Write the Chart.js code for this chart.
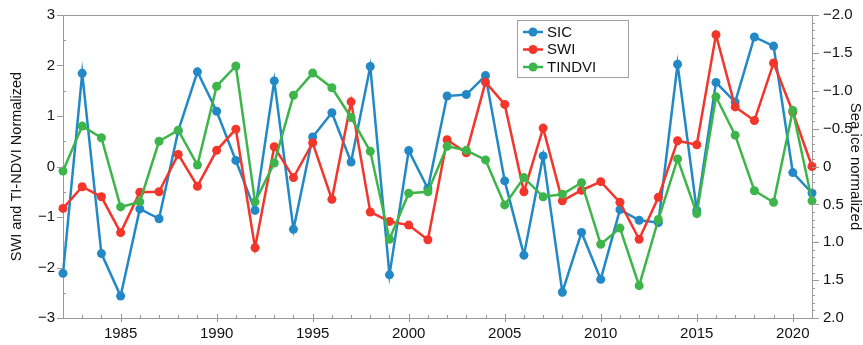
<!DOCTYPE html>
<html>
<head>
<meta charset="utf-8">
<script src="https://cdn.jsdelivr.net/npm/chart.js@4.4.1/dist/chart.umd.min.js"></script>
<style>
html,body{margin:0;padding:0;background:#fff;}
#wrap{width:863px;height:345px;position:relative;}
</style>
</head>
<body>
<div id="wrap"><canvas id="c" width="863" height="345"></canvas></div>
<script>
const years = [1982,1983,1984,1985,1986,1987,1988,1989,1990,1991,1992,1993,1994,1995,1996,1997,1998,1999,2000,2001,2002,2003,2004,2005,2006,2007,2008,2009,2010,2011,2012,2013,2014,2015,2016,2017,2018,2019,2020,2021];
// Sea ice (right axis, reversed)
const sic = [1.41,-1.23,1.15,1.71,0.56,0.69,-0.47,-1.25,-0.73,-0.08,0.58,-1.13,0.83,-0.39,-0.71,-0.06,-1.32,1.43,-0.21,0.29,-0.93,-0.95,-1.20,0.19,1.17,-0.14,1.66,0.87,1.49,0.57,0.71,0.74,-1.35,0.58,-1.11,-0.85,-1.71,-1.59,0.08,0.35];
const swi = [-0.83,-0.40,-0.60,-1.31,-0.51,-0.50,0.24,-0.39,0.32,0.74,-1.61,0.39,-0.22,0.47,-0.65,1.28,-0.90,-1.09,-1.16,-1.45,0.53,0.27,1.67,1.23,-0.50,0.76,-0.68,-0.47,-0.30,-0.71,-1.44,-0.61,0.51,0.43,2.61,1.18,0.91,2.05,1.08,0.00];
const tindvi = [-0.09,0.80,0.57,-0.80,-0.70,0.50,0.72,0.03,1.59,1.99,-0.70,0.07,1.41,1.85,1.56,0.97,0.30,-1.44,-0.53,-0.50,0.40,0.32,0.13,-0.76,-0.22,-0.60,-0.55,-0.32,-1.54,-1.22,-2.36,-1.05,0.15,-0.93,1.38,0.62,-0.48,-0.71,1.11,-0.68];
const seriesNames = ['SIC','SWI','TINDVI'];
const seriesColors = ['#2389c6','#f2362b','#3db54a'];

const pts = arr => years.map((yr,i)=>({x:yr,y:arr[i]}));
const minus = s => s.replace('-', '\u2212');
const FONT = "'Liberation Sans', Arial, Helvetica, sans-serif";
const AXIS = '#9a9a9a';

const framePlugin = {
  id:'frame',
  afterDraw(chart){
    const ctx = chart.ctx, a = chart.chartArea;
    const sx = chart.scales.x, sy = chart.scales.y, sy2 = chart.scales.y2;
    ctx.save();
    ctx.strokeStyle = AXIS; ctx.lineWidth = 1;
    ctx.beginPath(); ctx.moveTo(a.left, a.top+0.5); ctx.lineTo(a.right, a.top+0.5); ctx.stroke();
    // tick marks
    ctx.beginPath();
    for (let v = sx.min; v <= sx.max; v++) {
      const px = Math.round(sx.getPixelForValue(v)) + 0.5;
      if (v % 5 === 0) { ctx.moveTo(px, a.bottom - 4); ctx.lineTo(px, a.bottom + 4); }
      else { ctx.moveTo(px, a.bottom - 3); ctx.lineTo(px, a.bottom); }
    }
    for (let k = sy.min*2; k <= sy.max*2; k++) {
      const py = Math.round(sy.getPixelForValue(k/2)) + 0.5;
      if (k % 2 === 0) { ctx.moveTo(a.left - 6, py); ctx.lineTo(a.left, py); }
      else { ctx.moveTo(a.left, py); ctx.lineTo(a.left + 3, py); }
    }
    for (let k = sy2.min*10; k <= sy2.max*10; k++) {
      const py = Math.round(sy2.getPixelForValue(k/10)) + 0.5;
      if (k % 5 === 0) { ctx.moveTo(a.right, py); ctx.lineTo(a.right + 7, py); }
      else { ctx.moveTo(a.right, py); ctx.lineTo(a.right + 3, py); }
    }
    ctx.stroke();
    // legend
    const bx = 517.5, by = 20.5, bw = 111, bh = 57;
    ctx.fillStyle = '#fff';
    ctx.fillRect(bx,by,bw,bh);
    ctx.strokeStyle = '#a0a0a0';
    ctx.strokeRect(bx,by,bw,bh);
    ctx.font = "15px " + FONT;
    ctx.textBaseline = 'middle';
    seriesNames.forEach((n,i)=>{
      const yy = 32 + i*17.5;
      ctx.strokeStyle = seriesColors[i]; ctx.lineWidth = 2.5;
      ctx.beginPath(); ctx.moveTo(523,yy); ctx.lineTo(543,yy); ctx.stroke();
      ctx.fillStyle = seriesColors[i];
      ctx.beginPath(); ctx.arc(533,yy,4.5,0,Math.PI*2); ctx.fill();
      ctx.fillStyle = '#111';
      ctx.fillText(n, 547, yy+0.5);
    });
    ctx.restore();
  }
};

new Chart(document.getElementById('c'), {
  type:'line',
  data:{
    datasets:[
      {label:seriesNames[0], data:pts(sic), yAxisID:'y2', borderColor:seriesColors[0], backgroundColor:seriesColors[0], order:3},
      {label:seriesNames[1], data:pts(swi), yAxisID:'y', borderColor:seriesColors[1], backgroundColor:seriesColors[1], order:2},
      {label:seriesNames[2], data:pts(tindvi), yAxisID:'y', borderColor:seriesColors[2], backgroundColor:seriesColors[2], order:1}
    ]
  },
  options:{
    responsive:false,
    animation:false,
    events:[],
    layout:{padding:{top:15,left:0,right:0,bottom:0}},
    elements:{
      line:{borderWidth:2.5,tension:0,fill:false},
      point:{radius:4.5,borderWidth:0,hoverRadius:4.5}
    },
    datasets:{line:{clip:false}},
    plugins:{legend:{display:false},tooltip:{enabled:false}},
    scales:{
      x:{
        type:'linear', min:1982, max:2021,
        afterFit(s){ s.height = 27; },
        border:{color:AXIS,width:1},
        grid:{drawOnChartArea:false, tickLength:4, tickColor:'rgba(0,0,0,0)'},
        ticks:{stepSize:1, autoSkip:false, maxRotation:0, padding:3, color:'#111',
          font:{family:FONT,size:15},
          callback:v => (v%5===0 ? String(v) : '')}
      },
      y:{
        type:'linear', position:'left', min:-3, max:3,
        afterFit(s){ s.width = 63; },
        border:{color:AXIS,width:1},
        grid:{drawOnChartArea:false, tickLength:6, tickColor:'rgba(0,0,0,0)'},
        ticks:{stepSize:1, autoSkip:false, padding:2, color:'#111',
          font:{family:FONT,size:15},
          callback:v => minus(String(v))},
        title:{display:true, text:'SWI and TI-NDVI Normalized', color:'#111',
          font:{family:FONT,size:14.5,lineHeight:1.2}, padding:{top:8,bottom:0}}
      },
      y2:{
        type:'linear', position:'right', min:-2, max:2, reverse:true,
        afterFit(s){ s.width = 51; },
        border:{color:AXIS,width:1},
        grid:{drawOnChartArea:false, tickLength:7, tickColor:'rgba(0,0,0,0)'},
        ticks:{stepSize:0.5, autoSkip:false, padding:4, color:'#111',
          font:{family:FONT,size:15},
          callback:v => (v===0 ? '0' : minus(v.toFixed(1)))},
        title:{display:true, text:'Sea ice normalized', color:'#111',
          font:{family:FONT,size:15,lineHeight:1}, padding:{top:0,bottom:0}}
      }
    }
  },
  plugins:[framePlugin]
});
</script>
</body>
</html>
